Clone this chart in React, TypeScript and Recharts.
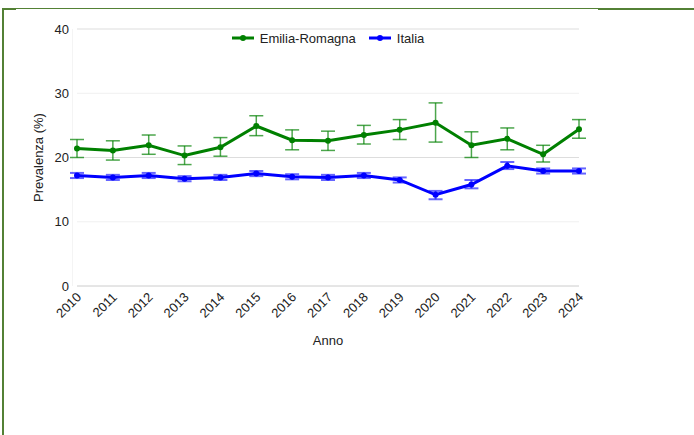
import { LineChart, Line, XAxis, YAxis, ErrorBar, ReferenceLine, Legend } from "recharts";

const years = ["2010", "2011", "2012", "2013", "2014", "2015", "2016", "2017", "2018", "2019", "2020", "2021", "2022", "2023", "2024"];

const erValues = [21.4, 21.1, 21.9, 20.3, 21.6, 24.9, 22.7, 22.6, 23.5, 24.3, 25.4, 21.9, 22.9, 20.5, 24.4];
const erLow = [20.0, 19.6, 20.5, 18.9, 20.2, 23.4, 21.2, 21.1, 22.1, 22.8, 22.4, 20.0, 21.2, 19.3, 23.0];
const erHigh = [22.8, 22.6, 23.5, 21.8, 23.1, 26.5, 24.3, 24.1, 25.0, 25.9, 28.5, 24.0, 24.6, 21.9, 25.9];

const itValues = [17.2, 16.9, 17.2, 16.7, 16.9, 17.5, 17.0, 16.9, 17.2, 16.5, 14.2, 15.8, 18.7, 17.9, 17.9];
const itLow = [16.8, 16.5, 16.8, 16.3, 16.5, 17.1, 16.6, 16.5, 16.8, 16.1, 13.5, 15.2, 18.2, 17.5, 17.5];
const itHigh = [17.6, 17.3, 17.6, 17.1, 17.3, 17.9, 17.4, 17.3, 17.6, 16.9, 14.8, 16.5, 19.3, 18.3, 18.3];

const yTicks = [0, 10, 20, 30, 40];

const seriesNames = ["Emilia-Romagna", "Italia"];
const seriesColors = ["#008000", "#0000ff"];

const FONT = "'Liberation Sans', Arial, sans-serif";
const FRAME = "#538135";

const data = years.map((year, i) => ({
  year,
  er: erValues[i],
  erErr: [+(erValues[i] - erLow[i]).toFixed(2), +(erHigh[i] - erValues[i]).toFixed(2)],
  it: itValues[i],
  itErr: [+(itValues[i] - itLow[i]).toFixed(2), +(itHigh[i] - itValues[i]).toFixed(2)],
}));

function YearTick({ x, y, payload }: any) {
  const tx = x + 5;
  const ty = y + 12;
  return (
    <text x={tx} y={ty} textAnchor="end" transform={`rotate(-45 ${tx} ${ty})`} fontSize={13} fill="#222">
      {payload.value}
    </text>
  );
}

function LegendBox() {
  return (
    <div style={{ display: "flex", justifyContent: "center", alignItems: "center", height: 18, fontFamily: FONT, fontSize: 13, color: "#222" }}>
      {seriesNames.map((name, i) => (
        <div key={name} style={{ display: "flex", alignItems: "center", marginLeft: i ? 13 : 0 }}>
          <svg width={22} height={10}>
            <line x1={0} y1={5} x2={22} y2={5} stroke={seriesColors[i]} strokeWidth={3} />
            <circle cx={11} cy={5} r={3} fill={seriesColors[i]} />
          </svg>
          <span style={{ marginLeft: 6 }}>{name}</span>
        </div>
      ))}
    </div>
  );
}

export default function App() {
  return (
    <div style={{ position: "absolute", left: 0, top: 0, width: 694, height: 435, background: "#fff", fontFamily: FONT }}>
      <div style={{ position: "absolute", left: 2, top: 8, width: 2, height: 427, background: FRAME }} />
      <div style={{ position: "absolute", left: 2, top: 8, width: 596, height: 1, background: FRAME }} />
      <div style={{ position: "absolute", left: 2, top: 8, width: 14, height: 2, background: FRAME }} />
      <div style={{ position: "absolute", left: 598, top: 8, width: 96, height: 2, background: FRAME }} />
      <div style={{ position: "absolute", left: 72, top: 29, width: 1, height: 257, background: "#f4f4f4" }} />
      <LineChart width={694} height={435} data={data} margin={{ top: 29, right: 115, bottom: 89, left: 0 }} style={{ fontFamily: FONT }}>
        {yTicks.map((t) => (
          <ReferenceLine key={t} y={t} stroke={t === 0 ? "#cccccc" : t % 20 === 0 ? "#dddddd" : "#f0f0f0"} strokeWidth={1} />
        ))}
        <XAxis
          dataKey="year"
          interval={0}
          height={60}
          axisLine={false}
          tickLine={false}
          tickSize={0}
          tickMargin={0}
          padding={{ left: 0, right: 0 }}
          tick={<YearTick />}
          label={{
            content: ({ viewBox }: any) => (
              <text x={viewBox.x + viewBox.width / 2} y={viewBox.y + 59} textAnchor="middle" fontSize={13} fill="#222">
                Anno
              </text>
            ),
          }}
        />
        <YAxis
          domain={[0, 40]}
          ticks={yTicks}
          width={77}
          axisLine={false}
          tickLine={false}
          tickSize={0}
          tickMargin={8}
          tick={{ fontSize: 13, fill: "#222" }}
          label={{
            content: ({ viewBox }: any) => (
              <text x={42.5} y={viewBox.y + viewBox.height / 2} transform={`rotate(-90 42.5 ${viewBox.y + viewBox.height / 2})`} textAnchor="middle" fontSize={13} fill="#222">
                Prevalenza (%)
              </text>
            ),
          }}
        />
        <Legend verticalAlign="middle" content={<LegendBox />} wrapperStyle={{ top: 29, left: 77, width: 502, height: 18 }} />
        <Line dataKey="er" name={seriesNames[0]} stroke={seriesColors[0]} strokeWidth={3} dot={{ r: 3, fill: seriesColors[0], stroke: "none" }} activeDot={false} isAnimationActive={false}>
          <ErrorBar dataKey="erErr" direction="y" width={7} stroke={seriesColors[0]} strokeOpacity={0.7} strokeWidth={1.5} isAnimationActive={false} />
        </Line>
        <Line dataKey="it" name={seriesNames[1]} stroke={seriesColors[1]} strokeWidth={3} dot={{ r: 3, fill: seriesColors[1], stroke: "none" }} activeDot={false} isAnimationActive={false}>
          <ErrorBar dataKey="itErr" direction="y" width={7} stroke={seriesColors[1]} strokeOpacity={0.6} strokeWidth={2} isAnimationActive={false} />
        </Line>
      </LineChart>
    </div>
  );
}
